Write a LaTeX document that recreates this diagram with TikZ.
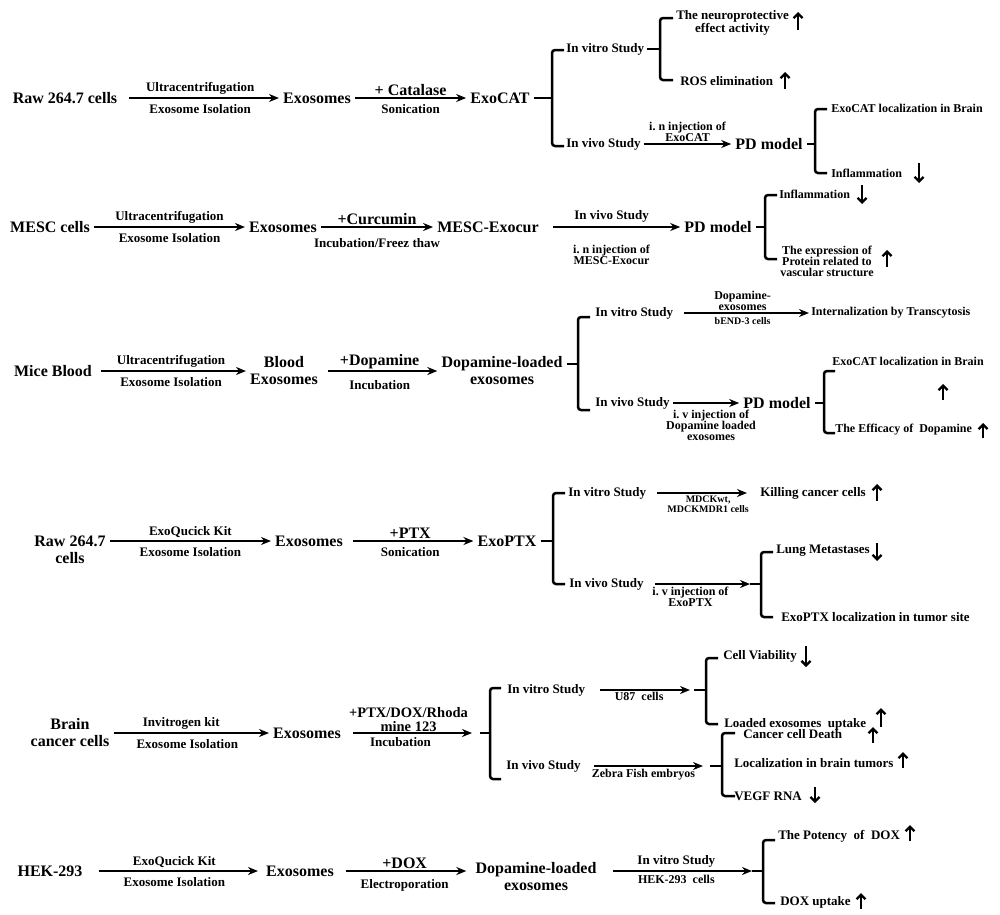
\documentclass[tikz,border=0pt]{standalone}
\usepackage{fontspec}
\setmainfont{Liberation Serif}
\usetikzlibrary{arrows.meta}
\frenchspacing
\begin{document}
\begin{tikzpicture}[x=1pt, y=-1pt, line width=2.5pt, >={Stealth[length=10pt,width=8pt]},
    main/.style={font=\fontsize{16}{17}\selectfont\bfseries, align=center, inner sep=3pt},
    mid/.style={font=\fontsize{13}{12.5}\selectfont\bfseries, align=center, inner sep=2pt},
    sml/.style={font=\fontsize{12}{11}\selectfont\bfseries, align=center, inner sep=1pt},
    tny/.style={font=\fontsize{10}{10}\selectfont\bfseries, align=center, inner sep=1pt},
    brace/.style={rounded corners=3pt},
    chg/.style={line width=2.3pt, -{Straight Barb[length=4.5pt,width=9pt]}}]
\useasboundingbox (0,0) rectangle (1000,914);

% Raw 264.7 cells -> ExoCAT
\node[main] (raw1) at (65,98) {Raw 264.7 cells};
\node[main] (exo1) at (317,98) {Exosomes};
\node[main] (cat) at (500,98) {ExoCAT};
\draw[->, shorten <=8pt] (raw1) -- (exo1) node[mid, midway, above] {Ultracentrifugation} node[mid, midway, below=3pt] {Exosome Isolation};
\draw[->] (exo1) -- (cat) node[main, midway, above, inner sep=1pt] {+ Catalase} node[mid, midway, below=3pt] {Sonication};
\coordinate (k1) at (552,98);
\draw (cat) -- (k1);
\draw[brace] (564,50) -- (552,50) -- (552,146) -- (564,146);
\node[mid, anchor=west] (vitro1) at (563,49) {In vitro Study};
\node[mid, anchor=west] (vivo1) at (563,144) {In vivo Study};
\coordinate (k2) at (660,49);
\draw (vitro1) -- (k2);
\draw[brace] (673,18) -- (660,18) -- (660,80) -- (673,80);
\node[mid, anchor=west] (neuro) at (673,23) {The neuroprotective\\effect activity};
\node[mid, anchor=west] (ros) at (677,81) {ROS elimination};
\draw[chg] (798,30) -- (798,12);
\draw[chg] (785,89) -- (785,72);
\node[main] (pd1) at (769,144) {PD model};
\draw[->] (vivo1) -- (pd1) node[sml, midway, above] {i. n injection of\\ExoCAT};
\coordinate (k3) at (815,144);
\draw (pd1) -- (k3);
\draw[brace] (827,109) -- (815,109) -- (815,173) -- (827,173);
\node[sml, anchor=west] (loc1) at (829,108) {ExoCAT localization in Brain};
\node[sml, anchor=west] (inf1) at (829,173) {Inflammation};
\draw[chg] (919,163) -- (919,183);

% MESC cells -> MESC-Exocur
\node[main] (mesc) at (50,227) {MESC cells};
\node[main] (exo2) at (283,227) {Exosomes};
\node[main] (mexo) at (488,227) {MESC-Exocur};
\draw[->] (mesc) -- (exo2) node[mid, midway, above] {Ultracentrifugation} node[mid, midway, below=3pt] {Exosome Isolation};
\draw[->] (exo2) -- (mexo) node[main, midway, above, inner sep=1pt] {+Curcumin} node[mid, midway, below=8pt] {Incubation/Freez thaw};
\node[main] (pd2) at (718,227) {PD model};
\draw[->, shorten <=10pt] (mexo) -- (pd2) node[mid, midway, above=1pt] {In vivo Study} node[sml, midway, below=16pt] {i. n injection of\\MESC-Exocur};
\coordinate (k4) at (765,227);
\draw (pd2) -- (k4);
\draw[brace] (777,195) -- (765,195) -- (765,259) -- (777,259);
\node[sml, anchor=west] (inf2) at (777,194) {Inflammation};
\node[sml, anchor=west] (prot) at (778,261) {The expression of\\Protein related to\\vascular structure};
\draw[chg] (862,185) -- (862,204);
\draw[chg] (887,267) -- (887,250);

% Mice Blood -> Dopamine-loaded exosomes
\node[main] (mice) at (53,371) {Mice Blood};
\node[main] (bexo) at (284,371) {Blood\\Exosomes};
\node[main] (dexo) at (502,371) {Dopamine-loaded\\exosomes};
\draw[->, shorten <=5pt] (mice) -- (bexo) node[mid, midway, above] {Ultracentrifugation} node[mid, midway, below=3pt] {Exosome Isolation};
\draw[->, shorten <=6pt] (bexo) -- (dexo) node[main, midway, above, inner sep=1pt] {+Dopamine} node[mid, midway, below=6pt] {Incubation};
\coordinate (k5) at (578,364);
\draw (dexo.east |- k5) -- (k5);
\draw[brace] (590,317) -- (578,317) -- (578,410) -- (590,410);
\node[mid, anchor=west] (vitro3) at (592,313) {In vitro Study};
\node[mid, anchor=west] (vivo3) at (592,403) {In vivo Study};
\node[sml, anchor=west] (trans) at (809,313) {Internalization by Transcytosis};
\draw[->, shorten <=8pt] (vitro3) -- (trans) node[sml, midway, above] {Dopamine-\\exosomes} node[tny, midway, below=2pt] {bEND-3 cells};
\node[main] (pd3) at (777,403) {PD model};
\draw[->] (vivo3) -- (pd3) node[sml, midway, below=5pt, xshift=5pt] {i. v injection of\\Dopamine loaded\\exosomes};
\coordinate (k6) at (824,403);
\draw (pd3) -- (k6);
\draw[brace] (835,371) -- (824,371) -- (824,433) -- (835,433);
\node[sml, anchor=west] (loc3) at (830,361) {ExoCAT localization in Brain};
\node[sml, anchor=west] (eff) at (833,430) {The Efficacy of~ Dopamine};
\draw[chg] (943,400) -- (943,384);
\draw[chg] (983,438) -- (983,423);

% Raw 264.7 cells -> ExoPTX
\node[main] (raw4) at (70,550) {Raw 264.7\\cells};
\node[main] (exo4) at (309,541) {Exosomes};
\node[main] (ptx) at (507,541) {ExoPTX};
\draw[->] (raw4.east |- exo4) -- (exo4) node[mid, midway, above] {ExoQucick Kit} node[mid, midway, below=3pt] {Exosome Isolation};
\draw[->, shorten <=6pt] (exo4) -- (ptx) node[main, midway, above, inner sep=1pt] {+PTX} node[mid, midway, below=3pt] {Sonication};
\coordinate (k7) at (553,541);
\draw (ptx) -- (k7);
\draw[brace] (565,493) -- (553,493) -- (553,584) -- (565,584);
\node[mid, anchor=west] (vitro4) at (565,493) {In vitro Study};
\node[mid, anchor=west] (vivo4) at (566,584) {In vivo Study};
\node[mid, anchor=west] (kill) at (757,493) {Killing cancer cells};
\draw[->, shorten <=8pt, shorten >=10pt] (vitro4) -- (kill) node[tny, midway, below=1pt, xshift=5pt] {MDCKwt,\\MDCKMDR1 cells};
\draw[chg] (877,501) -- (877,484);
\coordinate (t8) at (750,584);
\coordinate (k8) at (761,584);
\draw[->, shorten <=8pt] (vivo4) -- (t8) node[sml, midway, below=1pt, xshift=-8pt] {i. v injection of\\ExoPTX};
\draw (t8) -- (k8);
\draw[brace] (773,552) -- (761,552) -- (761,617) -- (773,617);
\node[mid, anchor=west] (lung) at (773,551) {Lung Metastases};
\node[mid, anchor=west] (ptxloc) at (778,617) {ExoPTX localization in tumor site};
\draw[chg] (877,543) -- (877,561);

% Brain cancer cells -> loaded exosomes
\node[main] (brain) at (70,733) {Brain\\cancer cells};
\node[main] (exo5) at (307,733) {Exosomes};
\draw[->] (brain) -- (exo5) node[mid, midway, above, xshift=-10pt] {Invitrogen kit} node[mid, midway, below=3pt, xshift=-4pt] {Exosome Isolation};
\coordinate (t5) at (472,733);
\coordinate (s5) at (480,733);
\coordinate (k9) at (490,733);
\draw[->, shorten <=8pt] (exo5) -- (t5) node[midway, above, inner sep=0pt, align=center, font=\fontsize{14.5}{14}\selectfont\bfseries] {+PTX/DOX/Rhoda\\mine 123} node[mid, midway, below=1pt, xshift=-8pt] {Incubation};
\draw (s5) -- (k9);
\draw[brace] (501,688) -- (490,688) -- (490,779) -- (501,779);
\node[mid, anchor=west] (vitro5) at (504,690) {In vitro Study};
\node[mid, anchor=west] (vivo5) at (503,766) {In vivo Study};
\coordinate (t10) at (690,690);
\coordinate (s10) at (694,690);
\coordinate (k10) at (706,690);
\draw[->, shorten <=12pt] (vitro5) -- (t10) node[sml, midway, below=0pt] {U87~ cells};
\draw (s10) -- (k10);
\draw[brace] (718,658) -- (706,658) -- (706,724) -- (718,724);
\node[mid, anchor=west] (viab) at (720,656) {Cell Viability};
\node[mid, anchor=west] (upt) at (721,724) {Loaded exosomes~ uptake};
\draw[chg] (806,646) -- (806,667);
\draw[chg] (881,727) -- (881,708);
\coordinate (t11) at (703,766);
\coordinate (s11) at (710,766);
\coordinate (k11) at (722,766);
\draw[->, shorten <=10pt] (vivo5) -- (t11) node[sml, midway, below=1pt] {Zebra Fish embryos};
\draw (s11) -- (k11);
\draw[brace] (735,733) -- (722,733) -- (722,796) -- (735,796);
\node[mid, anchor=west] (death) at (740,734) {Cancer cell Death};
\node[mid, anchor=west] (locb) at (731,763) {Localization in brain tumors};
\node[mid, anchor=west] (vegf) at (731,796) {VEGF RNA};
\draw[chg] (873,743) -- (873,727);
\draw[chg] (903,768) -- (903,752);
\draw[chg] (815,787) -- (815,803);

% HEK-293 -> loaded exosomes
\node[main] (hek) at (50,871) {HEK-293};
\node[main] (exo6) at (300,871) {Exosomes};
\node[main] (dexo6) at (536,877) {Dopamine-loaded\\exosomes};
\draw[->, shorten <=12pt, shorten >=4pt] (hek) -- (exo6) node[mid, midway, above] {ExoQucick Kit} node[mid, midway, below=3pt] {Exosome Isolation};
\draw[->, shorten <=8pt, shorten >=5pt] (exo6) -- (exo6 -| dexo6.west) node[main, midway, above, inner sep=1pt] {+DOX} node[mid, midway, below=5pt] {Electroporation};
\coordinate (t12) at (752,871);
\coordinate (k12) at (763,871);
\draw[->, shorten <=12pt] (dexo6.east |- exo6) -- (t12) node[mid, midway, above] {In vitro Study} node[sml, midway, below=2pt] {HEK-293~ cells};
\draw (t12) -- (k12);
\draw[brace] (775,840) -- (763,840) -- (763,903) -- (775,903);
\node[mid, anchor=west] (pot) at (775,836) {The Potency~ of~ DOX};
\node[mid, anchor=west] (doxu) at (777,902) {DOX uptake};
\draw[chg] (910,841) -- (910,825);
\draw[chg] (861,909) -- (861,893);
\end{tikzpicture}
\end{document}
